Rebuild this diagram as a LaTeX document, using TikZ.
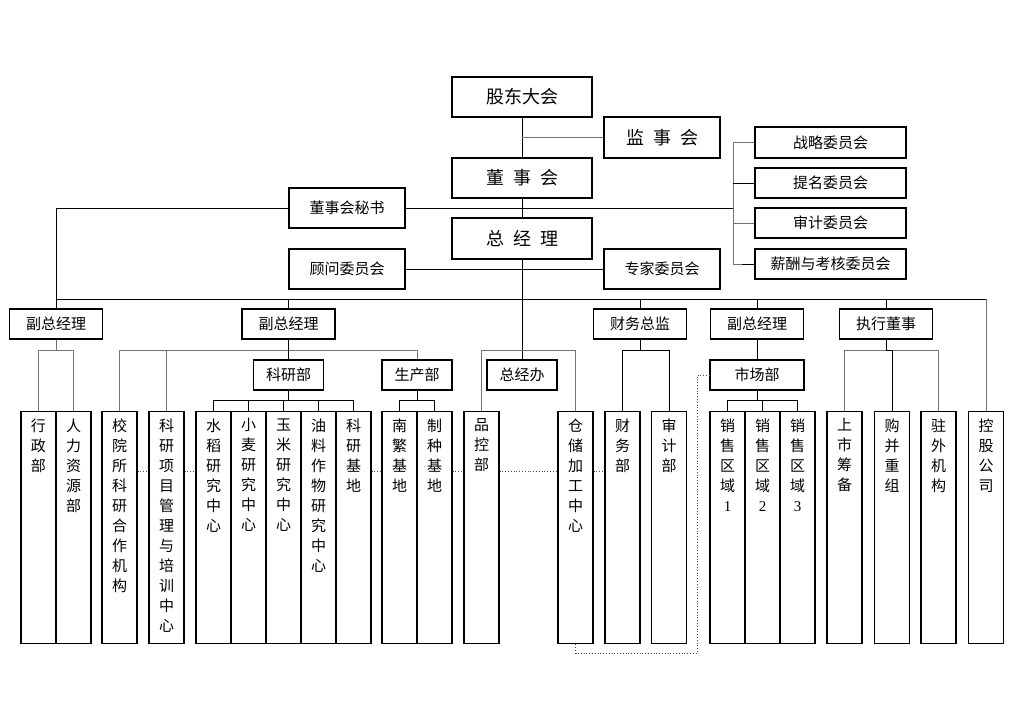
\documentclass[tikz,border=0pt]{standalone}
\usepackage{fontspec}
\setmainfont{Liberation Serif}
\newfontfamily\cjk{Noto Sans CJK SC}
% column text, one character per line
\newcommand{\shu}[1]{\parbox[c][218pt][t]{24pt}{\centering #1}}

\begin{document}
\begin{tikzpicture}[x=1pt, y=-1pt,
  big/.style={draw, line width=1.2pt, inner sep=0pt, minimum width=140pt, minimum height=40pt, font=\cjk\fontsize{18pt}{20pt}\selectfont},
  box/.style={draw, line width=1.2pt, inner sep=0pt, minimum width=116pt, minimum height=40pt, font=\cjk\fontsize{15pt}{18pt}\selectfont},
  wy/.style={box, minimum width=151pt, minimum height=30pt},
  mid/.style={box, minimum width=93pt, minimum height=30pt},
  dept/.style={box, minimum width=70pt, minimum height=30pt},
  col/.style={draw, line width=1.2pt, inner xsep=0pt, inner ysep=7pt, minimum width=35pt, minimum height=232pt, anchor=north, font=\cjk\fontsize{15pt}{20pt}\selectfont},
  link/.style={draw=black, line width=1pt},
  glink/.style={draw=black!55, line width=1pt},
  dots/.style={draw=black!70, line width=0.8pt, dotted}]
\useasboundingbox (0,0) rectangle (1024,720);

% top
\node (gd) at (522, 97) [big] {股东大会};
\node (js) at (662, 137.5) [big, minimum width=116pt, minimum height=41pt] {监\hspace{9pt}事\hspace{9pt}会};
\node (dsh) at (522, 178) [big] {董\hspace{9pt}事\hspace{9pt}会};
\node (zjl) at (522, 238.5) [big, minimum height=41pt] {总\hspace{9pt}经\hspace{9pt}理};
\node (ms) at (347, 208) [box] {董事会秘书};
\node (gw) at (347, 269) [box] {顾问委员会};
\node (zj) at (662, 269) [box] {专家委员会};

% committees
\node (zl) at (830.5, 142.5) [wy, minimum height=31pt] {战略委员会};
\node (tm) at (830.5, 183) [wy] {提名委员会};
\node (sj) at (830.5, 223) [wy] {审计委员会};
\node (xc) at (830.5, 264) [wy] {薪酬与考核委员会};

% second level
\node (fz1) at (56, 324) [mid] {副总经理};
\node (fz2) at (288.5, 324) [mid] {副总经理};
\node (cw) at (640, 324) [mid] {财务总监};
\node (fz3) at (757, 324) [mid] {副总经理};
\node (zx) at (886, 324) [mid] {执行董事};

% third level
\node (ky) at (288.5, 375) [dept] {科研部};
\node (sc) at (417, 375) [dept] {生产部};
\node (zjb) at (522, 375) [dept] {总经办};
\node (scb) at (757, 375) [dept, minimum width=94pt] {市场部};

% columns
\node (xz) at (38.5, 411) [col] {\shu{行\\政\\部}};
\node (rl) at (73.5, 411) [col] {\shu{人\\力\\资\\源\\部}};
\node (xy) at (119.5, 411) [col] {\shu{校\\院\\所\\科\\研\\合\\作\\机\\构}};
\node (xm) at (166.5, 411) [col] {\shu{科\\研\\项\\目\\管\\理\\与\\培\\训\\中\\心}};
\node (sd) at (213.5, 411) [col] {\shu{水\\稻\\研\\究\\中\\心}};
\node (xmai) at (248.5, 411) [col] {\shu{小\\麦\\研\\究\\中\\心}};
\node (ym) at (283.5, 411) [col] {\shu{玉\\米\\研\\究\\中\\心}};
\node (yl) at (318.5, 411) [col] {\shu{油\\料\\作\\物\\研\\究\\中\\心}};
\node (kj) at (353.5, 411) [col] {\shu{科\\研\\基\\地}};
\node (nf) at (399.5, 411) [col] {\shu{南\\繁\\基\\地}};
\node (zz) at (434.5, 411) [col] {\shu{制\\种\\基\\地}};
\node (pk) at (481.5, 411) [col] {\shu{品\\控\\部}};
\node (cc) at (575.5, 411) [col] {\shu{仓\\储\\加\\工\\中\\心}};
\node (cwb) at (622.5, 411) [col] {\shu{财\\务\\部}};
\node (sjb) at (669, 411) [col] {\shu{审\\计\\部}};
\node (xs1) at (727.5, 411) [col] {\shu{销\\售\\区\\域\\\textrm{1}}};
\node (xs2) at (762.5, 411) [col] {\shu{销\\售\\区\\域\\\textrm{2}}};
\node (xs3) at (797.5, 411) [col] {\shu{销\\售\\区\\域\\\textrm{3}}};
\node (ss) at (844.5, 411) [col] {\shu{上\\市\\筹\\备}};
\node (bg) at (892, 411) [col] {\shu{购\\并\\重\\组}};
\node (zw) at (938.5, 411) [col] {\shu{驻\\外\\机\\构}};
\node (kg) at (986, 411) [col] {\shu{控\\股\\公\\司}};

\coordinate (bus) at (0, 299);
\coordinate (b2) at (0, 350);
\coordinate (b3) at (0, 400);
\coordinate (wyh) at (733, 208);
\coordinate (dl) at (0, 471);
\coordinate (dv) at (697, 653);

% board
\draw[link] (gd) -- (dsh);
\draw[glink] (js.west) -- (js.west -| gd.south);
\draw[link] (dsh) -- (zjl);
\draw[link] (ms.east) -- (wyh);
\draw[glink] (zl.west) -| (wyh) |- (xc.west);
\draw[link] (tm.west) -- (tm.west -| wyh);
\draw[glink] (sj.west) -- (sj.west -| wyh);
\draw[link] (xc.west) -- ++(-12,0);
\draw[link] (gw.east) -- (zj.west);

% main bus
\draw[link] (ms.west) -| (fz1.north);
\draw[link] (fz1.north |- bus) -- (bus -| kg.north);
\draw[glink] (bus -| kg.north) -- (kg.north);
\draw[link] (zjl) -- (zjb);
\foreach \n in {fz2,cw,fz3,zx}
  \draw[link] (\n.north) -- (\n.north |- bus);

% branches
\foreach \c in {xz,rl}
  \draw[glink] (fz1.south) -- (fz1.south |- b2) -| (\c.north);
\foreach \c in {xy,xm,ky,sc}
  \draw[glink] (fz2.south |- b2) -| (\c.north);
\draw[link] (fz2.south) -- (ky.north);
\foreach \c in {sd,xmai,ym,yl,kj}
  \draw[link] (ky.south) -- (ky.south |- b3) -| (\c.north);
\foreach \c in {nf,zz}
  \draw[link] (sc.south) -- (sc.south |- b3) -| (\c.north);
\foreach \c in {pk,cc}
  \draw[glink] (zjl.south |- b2) -| (\c.north);
\foreach \c in {cwb,sjb}
  \draw[link] (cw.south) -- (cw.south |- b2) -| (\c.north);
\draw[link] (fz3) -- (scb);
\foreach \c in {xs1,xs2,xs3}
  \draw[link] (scb.south) -- (scb.south |- b3) -| (\c.north);
\foreach \c in {ss,bg,zw}
  \draw[glink] (zx.south |- b2) -| (\c.north);
\draw[link] (zx.south) |- (zx.south |- b2) -| (bg.north);

% dotted links
\foreach \a/\b in {xy/xm,xm/sd,kj/nf,zz/pk,pk/cc,cc/cwb}
  \draw[dots] (\a.east |- dl) -- (\b.west |- dl);
\draw[dots] (cc.south) |- (dv) |- (scb.west);
\end{tikzpicture}
\end{document}
